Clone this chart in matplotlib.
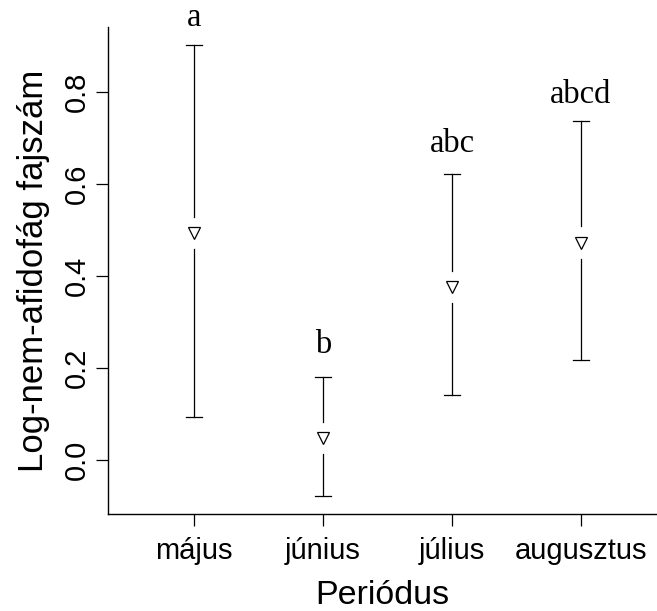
import numpy as np
import matplotlib.pyplot as plt

# Data
periods = ['május', 'június', 'július', 'augusztus']
means = [0.494, 0.047, 0.377, 0.473]
upper = [0.903, 0.180, 0.622, 0.737]
lower = [0.093, -0.079, 0.141, 0.217]
letters = ['a', 'b', 'abc', 'abcd']
letter_y = [0.944, 0.233, 0.671, 0.777]

plt.rcParams['font.family'] = ['Liberation Sans', 'DejaVu Sans']

fig = plt.figure(figsize=(6.57, 6.11), dpi=100)
ax = fig.add_axes([108 / 657, 97 / 611, 549 / 657, 487 / 611])

x = np.arange(1, len(periods) + 1)
gap = 0.035  # break in the bar around the marker
cap = 0.06

for xi, m, lo, hi in zip(x, means, lower, upper):
    ax.plot([xi, xi], [m + gap, hi], color='black', lw=0.9)
    ax.plot([xi, xi], [lo, m - gap], color='black', lw=0.9)
    ax.plot([xi - cap, xi + cap], [hi, hi], color='black', lw=0.9)
    ax.plot([xi - cap, xi + cap], [lo, lo], color='black', lw=0.9)

ax.plot(x, means, linestyle='none', marker='v', markersize=8.5,
        markerfacecolor='white', markeredgecolor='black', markeredgewidth=0.9)

for xi, t, ty in zip(x, letters, letter_y):
    ax.text(xi, ty, t, ha='center', va='baseline', fontsize=23.5,
            family=['Liberation Serif', 'DejaVu Serif'])

ax.set_xlim(0.333, 4.589)
ax.set_ylim(-0.1175, 0.942)
ax.set_xticks(x)
ax.set_xticklabels(periods, fontsize=21)
ax.set_yticks([0.0, 0.2, 0.4, 0.6, 0.8])
ax.set_yticklabels(['0.0', '0.2', '0.4', '0.6', '0.8'], fontsize=21,
                   rotation=90, va='center')
ax.tick_params(axis='both', direction='out', length=8.6, width=0.9)
ax.tick_params(axis='x', pad=8)
ax.tick_params(axis='y', pad=4)

ax.spines['top'].set_visible(False)
ax.spines['right'].set_visible(False)
ax.spines['left'].set_linewidth(1.0)
ax.spines['bottom'].set_linewidth(1.0)

ax.set_xlabel('Periódus', fontsize=24.5, labelpad=11)
ax.set_ylabel('Log-nem-afidofág fajszám', fontsize=25, labelpad=9)

fig.savefig('out.png', dpi=100)
